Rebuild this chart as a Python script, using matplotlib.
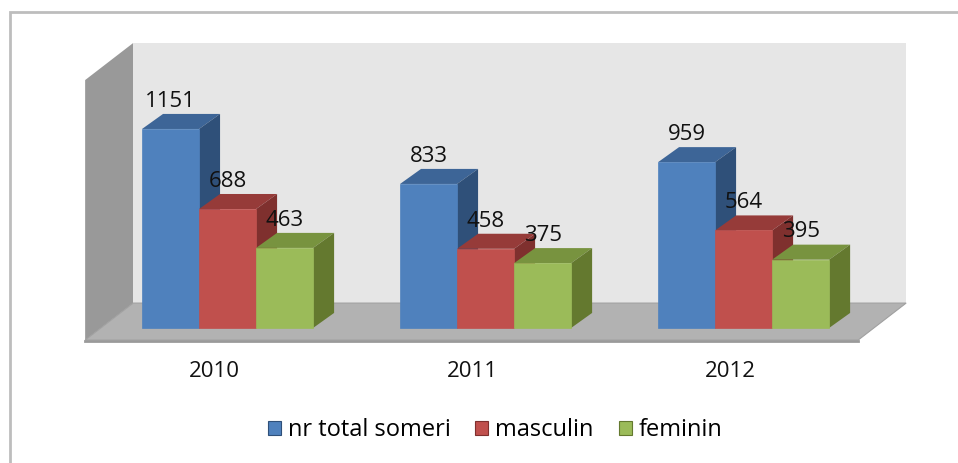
import matplotlib
matplotlib.use("Agg")
import matplotlib.pyplot as plt
from matplotlib.patches import Polygon, Rectangle, Patch

plt.rcParams['font.family'] = ['Open Sans', 'DejaVu Sans']

# date
ani = ["2010", "2011", "2012"]
serii = ["nr total someri", "masculin", "feminin"]
total = [1151, 833, 959]
masculin = [688, 458, 564]
feminin = [463, 375, 395]
valori = [total, masculin, feminin]

# culori: fata, partea de sus, lateral
fete = ["#4f81bd", "#c0504d", "#9bbb59"]
sus = ["#3d6597", "#963b39", "#78933f"]
lateral = ["#2f5079", "#7f302e", "#64792f"]

fig = plt.figure(figsize=(9.58, 4.63), dpi=100)
ax = fig.add_axes([0, 0, 1, 1])
ax.set_xlim(-0.882, 2.831)
ax.set_ylim(-781, 1897)
ax.axis("off")

latime = 0.221            # latimea unei bare
adanc_bara = (0.0814, 87)  # adancimea barelor
adanc = (0.186, 214)       # adancimea podelei
podea_y = -70
podea_x0, podea_x1 = -0.552, 2.444
perete_sus = 1434

# perete stanga
ax.add_patch(Polygon([(podea_x0, podea_y), (podea_x0 + adanc[0], podea_y + adanc[1]),
                      (podea_x0 + adanc[0], perete_sus + adanc[1]), (podea_x0, perete_sus)],
                     closed=True, facecolor="#999999", edgecolor="none", zorder=1))
# perete spate
ax.add_patch(Rectangle((podea_x0 + adanc[0], podea_y + adanc[1]),
                       podea_x1 - podea_x0, perete_sus - podea_y,
                       facecolor="#e6e6e6", edgecolor="none", zorder=1))
# podea
ax.add_patch(Polygon([(podea_x0, podea_y), (podea_x1, podea_y),
                      (podea_x1 + adanc[0], podea_y + adanc[1]),
                      (podea_x0 + adanc[0], podea_y + adanc[1])],
                     closed=True, facecolor="#b2b2b2", edgecolor="#a0a0a0", lw=0.8, zorder=2))
ax.plot([podea_x0, podea_x1], [podea_y - 6, podea_y - 6], color="#9a9a9a", lw=2, zorder=2)

dx, dy = adanc_bara
for j, vals in enumerate(valori):
    xs = [i + (j - 1) * latime for i in range(len(ani))]
    z = 3 + j
    ax.bar(xs, vals, width=latime, color=fete[j], edgecolor=fete[j], lw=0.5, zorder=z + 0.2)
    for x, v in zip(xs, vals):
        st, dr = x - latime / 2, x + latime / 2
        ax.add_patch(Polygon([(st, v), (dr, v), (dr + dx, v + dy), (st + dx, v + dy)],
                             closed=True, facecolor=sus[j], edgecolor="none", zorder=z))
        ax.add_patch(Polygon([(dr, 0), (dr + dx, dy), (dr + dx, v + dy), (dr, v)],
                             closed=True, facecolor=lateral[j], edgecolor="none", zorder=z))
        ax.annotate(str(v), xy=(x, v), xytext=(0, 20), textcoords="offset points",
                    ha="center", va="center", fontsize=16, color="#111111", zorder=10)

for i, an in enumerate(ani):
    ax.annotate(an, xy=(i, podea_y), xytext=(-9.7, -22.5), textcoords="offset points",
                ha="center", va="center", fontsize=16, color="#111111")

manere = [Patch(facecolor=fete[j], edgecolor=lateral[j], lw=0.8, label=serii[j]) for j in range(3)]
fig.legend(handles=manere, loc="center", bbox_to_anchor=(495 / 958, 1 - 430 / 463),
           ncol=3, frameon=False, fontsize=17, handlelength=0.55, handleheight=0.55,
           handletextpad=0.3, columnspacing=1.05)

# chenar
fig.add_artist(Rectangle((10 / 958, -0.1), 1.2, 1 - 12 / 463 + 0.1, transform=fig.transFigure,
                         facecolor="none", edgecolor="#bdbdbd", lw=2))

fig.savefig("out.png", dpi=100)
